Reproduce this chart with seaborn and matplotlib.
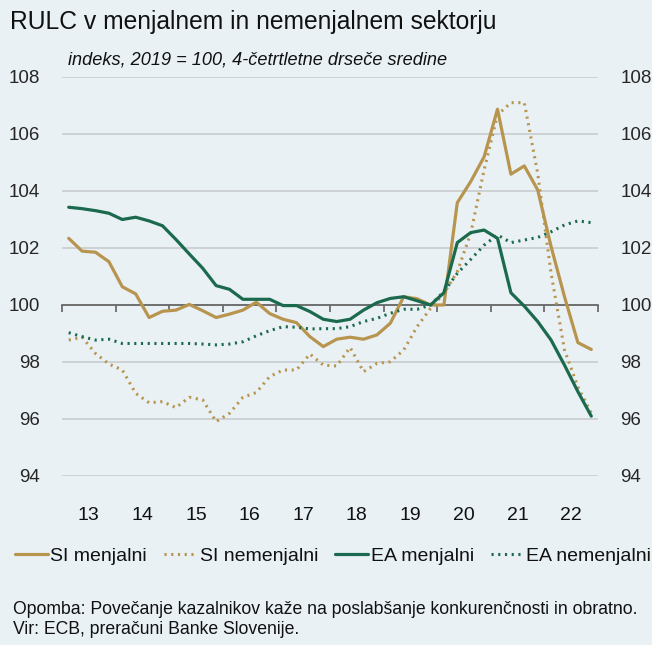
import numpy as np
import pandas as pd
import seaborn as sns
from matplotlib import pyplot as plt

# cetrtletja 2013Q1 - 2022Q4
years = list(range(2013, 2023))
si_menjalni = [102.34, 101.89, 101.85, 101.52, 100.64, 100.39, 99.56, 99.78, 99.82, 100.02,
               99.80, 99.56, 99.68, 99.82, 100.10, 99.70, 99.50, 99.38, 98.89, 98.54,
               98.80, 98.87, 98.80, 98.95, 99.36, 100.29, 100.22, 100.00, 100.00, 103.59,
               104.33, 105.20, 106.87, 104.59, 104.88, 104.04, 102.05, 100.29, 98.68, 98.44]
si_nemenjalni = [98.77, 98.87, 98.30, 97.93, 97.72, 96.90, 96.57, 96.61, 96.40, 96.76,
                 96.67, 95.91, 96.20, 96.76, 96.93, 97.49, 97.72, 97.72, 98.28, 97.89,
                 97.86, 98.51, 97.66, 97.95, 98.01, 98.42, 99.24, 99.88, 100.41, 101.17,
                 102.51, 104.74, 106.67, 107.10, 107.10, 104.62, 101.11, 98.42, 97.13, 96.20]
ea_menjalni = [103.43, 103.38, 103.31, 103.22, 103.00, 103.08, 102.95, 102.78, 102.30, 101.79,
               101.29, 100.68, 100.55, 100.20, 100.20, 100.20, 99.98, 99.98, 99.77, 99.50,
               99.42, 99.50, 99.82, 100.08, 100.23, 100.29, 100.15, 100.00, 100.43, 102.19,
               102.54, 102.63, 102.34, 100.43, 99.96, 99.42, 98.77, 97.89, 96.96, 96.10]
ea_nemenjalni = [99.03, 98.89, 98.77, 98.80, 98.65, 98.65, 98.65, 98.65, 98.65, 98.65,
                 98.63, 98.60, 98.63, 98.71, 98.92, 99.10, 99.24, 99.22, 99.16, 99.17,
                 99.17, 99.24, 99.42, 99.53, 99.71, 99.85, 99.85, 100.00, 100.47, 101.11,
                 101.60, 102.10, 102.46, 102.19, 102.28, 102.37, 102.57, 102.81, 102.95, 102.89]
labels = ['SI menjalni', 'SI nemenjalni', 'EA menjalni', 'EA nemenjalni']

gold = '#b8954f'
green = '#1c6a4e'
bg = '#e9f1f5'


def draw():
    sns.set_theme(style='white')
    plt.rcParams['font.family'] = ['Liberation Sans', 'DejaVu Sans']
    plt.rcParams['text.color'] = '#111111'

    t = [y + (q + 0.5) / 4 for y in years for q in range(4)]
    series = [si_menjalni, si_nemenjalni, ea_menjalni, ea_nemenjalni]
    styles = [(gold, '-'), (gold, (0, (0.7, 1.5))), (green, '-'), (green, (0, (0.7, 1.5)))]

    fig = plt.figure(figsize=(6.52, 6.45), dpi=100, facecolor=bg)
    ax = fig.add_axes([62 / 652, 1 - 476 / 645, 536 / 652, 399 / 645])
    ax.set_facecolor(bg)

    for vals, lab, (c, ls) in zip(series, labels, styles):
        df = pd.DataFrame({'t': t, 'v': vals})
        lw = 2.3 if ls == '-' else 2.2
        sns.lineplot(data=df, x='t', y='v', ax=ax, color=c, linestyle=ls, linewidth=lw,
                     label=lab, legend=False, zorder=3)

    ax.set_xlim(2013, 2023)
    ax.set_ylim(94, 108)
    ax.set_yticks(np.arange(94, 109, 2))
    ax.yaxis.grid(True, color='#c6c9cb', linewidth=1.1)
    ax.set_axisbelow(True)
    ax.set_xlabel('')
    ax.set_ylabel('')

    for s in ['left', 'right', 'top']:
        ax.spines[s].set_visible(False)
    ax.spines['bottom'].set_position(('data', 100))
    ax.spines['bottom'].set_color('#555555')
    ax.spines['bottom'].set_linewidth(1.1)
    ax.spines['bottom'].set_zorder(2)

    ax.set_xticks(range(2013, 2024))
    ax.set_xticklabels([])
    ax.tick_params(axis='x', direction='out', length=5, width=1.1, color='#555555', bottom=True)
    ax.tick_params(axis='y', length=0, labelsize=13.5, labelleft=True, labelright=True, pad=16)
    for y in years:
        ax.text(y + 0.5, -0.098, str(y)[2:], transform=ax.get_xaxis_transform(),
                ha='center', va='center', fontsize=14)

    fig.text(10 / 652, 1 - 22 / 645, 'RULC v menjalnem in nemenjalnem sektorju',
             fontsize=17.7, va='center', ha='left')
    fig.text(68 / 652, 1 - 60 / 645, 'indeks, 2019 = 100, 4-četrtletne drseče sredine',
             fontsize=13.1, style='italic', va='center', ha='left')

    h, l = ax.get_legend_handles_labels()
    fig.legend(h, l, loc='center', bbox_to_anchor=(333 / 652, 1 - 556 / 645), ncol=4, frameon=False,
               fontsize=14, handlelength=1.7, handletextpad=0.15, columnspacing=0.85, borderaxespad=0,
               borderpad=0)

    fig.text(13 / 652, 1 - 609 / 645,
             'Opomba: Povečanje kazalnikov kaže na poslabšanje konkurenčnosti in obratno.',
             fontsize=12.7, va='center', ha='left')
    fig.text(13 / 652, 1 - 630 / 645, 'Vir: ECB, preračuni Banke Slovenije.',
             fontsize=12.7, va='center', ha='left')

    fig.savefig('out.png', dpi=100, facecolor=bg)


def main():
    draw()


if __name__ == '__main__':
    main()
